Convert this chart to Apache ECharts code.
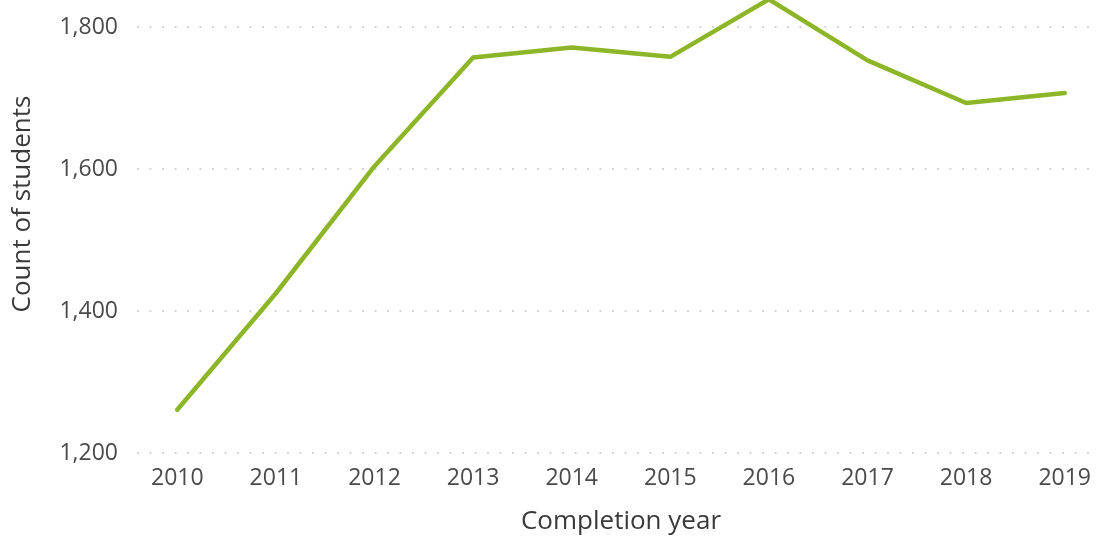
<!DOCTYPE html>
<html>
<head>
  <meta charset="utf-8" />
  <title>Count of students by completion year</title>
  <script src="https://cdn.jsdelivr.net/npm/echarts@6.0.0/dist/echarts.min.js"></script>
  <style>
    body { margin: 0; background: #fff; }
  </style>
</head>
<body>
  <div id="main" style="width: 1103px;height:543px;"></div>
  <script type="text/javascript">
    var myChart = echarts.init(document.getElementById('main'));

    // data
    var years = ['2010', '2011', '2012', '2013', '2014', '2015', '2016', '2017', '2018', '2019'];
    var students = [1261, 1425, 1604, 1757, 1771, 1758, 1839, 1753, 1693, 1707];
    var yTicks = [1200, 1400, 1600, 1800];

    var fontFamily = "'Segoe UI', 'Open Sans', sans-serif";
    var tickColor = '#4a4a4a', titleColor = '#3a3a3a';

    var option = {
      backgroundColor: '#fff',
      animation: false,
      // grid 0 only carries the dotted gridlines and y labels,
      // grid 1 carries the category axis and the line (a bit wider than the canvas)
      grid: [
        { left: 137, right: 4, top: 27, bottom: 90, outerBoundsMode: 'none' },
        { left: 128, right: -11, top: 27, bottom: 90, outerBoundsMode: 'none' }
      ],
      xAxis: [{
        gridIndex: 0,
        type: 'category',
        show: false,
        data: years
      }, {
        gridIndex: 1,
        type: 'category',
        data: years,
        boundaryGap: true,
        axisLine: { show: false },
        axisTick: { show: false },
        axisLabel: {
          margin: 14,
          color: tickColor,
          fontSize: 23,
          fontFamily: fontFamily
        },
        name: 'Completion year',
        nameLocation: 'middle',
        nameGap: 56,
        nameTextStyle: {
          color: titleColor,
          fontSize: 26,
          fontFamily: fontFamily
        }
      }],
      yAxis: [{
        gridIndex: 0,
        type: 'value',
        min: yTicks[0],
        max: yTicks[yTicks.length - 1],
        interval: yTicks[1] - yTicks[0],
        axisLine: { show: false },
        axisTick: { show: false },
        axisLabel: {
          margin: 19,
          color: tickColor,
          fontSize: 23,
          fontFamily: fontFamily,
          formatter: function (v) { return v.toLocaleString('en-US'); }
        },
        splitLine: {
          lineStyle: {
            color: '#C8C8C8',
            width: 1.6,
            type: [2, 10.5]
          }
        }
      }, {
        gridIndex: 1,
        type: 'value',
        show: false,
        min: yTicks[0],
        max: yTicks[yTicks.length - 1],
        splitLine: { show: false }
      }],
      graphic: [{
        type: 'text',
        x: 23,
        y: 204,
        rotation: Math.PI / 2,
        style: {
          text: 'Count of students',
          fill: titleColor,
          fontSize: 26,
          fontFamily: fontFamily,
          align: 'center',
          verticalAlign: 'middle'
        }
      }],
      series: [{
        type: 'line',
        xAxisIndex: 1,
        yAxisIndex: 1,
        data: students,
        clip: false,
        symbol: 'none',
        lineStyle: {
          color: '#8CB527',
          width: 4.5,
          cap: 'round',
          join: 'round'
        }
      }]
    };

    myChart.setOption(option);
  </script>
</body>
</html>
